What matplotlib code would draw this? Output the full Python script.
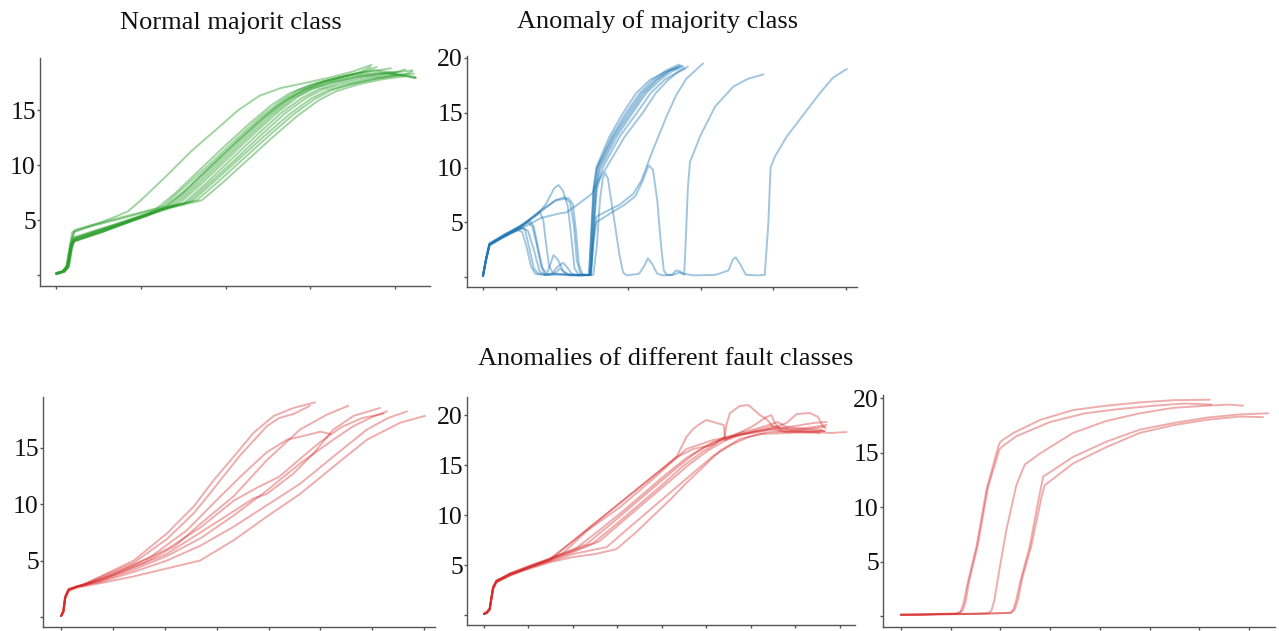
import matplotlib
matplotlib.use("Agg")
import matplotlib.pyplot as plt

# ---------------------------------------------------------------------------
# Data: each curve is a list of (sample index, value) points
# ---------------------------------------------------------------------------
normal_curves = [
    [(0,0.15),(7,0.3),(12,0.8),(16,2.6),(19,3.9),(30,4.2),(50,4.7),(70,5.3),(85,5.8),(100,6.8),(130,9.0),(160,11.3),(190,13.3),(215,15.0),(240,16.3),(265,17.0),(290,17.4),(320,17.9),(350,18.5),(372,19.1)],
    [(0,0.1),(8,0.35),(13,0.9),(17,2.8),(21,3.9),(40,4.4),(70,5.0),(100,5.6),(118,6.0),(140,7.4),(170,9.6),(200,11.8),(230,13.9),(255,15.5),(275,16.5),(300,17.3),(330,17.9),(360,18.4),(378,18.9)],
    [(0,0.15),(7,0.3),(13,0.7),(17,2.4),(20,3.4),(40,3.9),(70,4.6),(100,5.3),(124,6.1),(150,7.9),(180,10.0),(210,12.2),(240,14.3),(265,15.8),(285,16.8),(310,17.5),(340,18.1),(370,18.5),(395,18.8)],
    [(1,0.1),(9,0.3),(14,0.8),(18,2.6),(21,3.2),(45,3.9),(75,4.6),(105,5.4),(130,6.2),(155,7.9),(185,10.1),(215,12.3),(245,14.4),(270,15.9),(290,16.8),(315,17.6),(345,18.2),(375,18.6),(402,18.4)],
    [(0,0.2),(8,0.3),(13,0.6),(17,2.2),(20,3.0),(45,3.7),(75,4.5),(105,5.3),(135,6.3),(160,8.0),(190,10.2),(220,12.4),(250,14.5),(275,16.0),(295,16.9),(320,17.6),(350,18.1),(380,18.4),(408,18.2)],
    [(2,0.1),(10,0.3),(15,0.8),(18,2.4),(21,3.1),(50,3.9),(80,4.7),(110,5.5),(140,6.4),(165,8.1),(195,10.3),(225,12.5),(255,14.6),(280,16.1),(300,16.9),(325,17.5),(355,18.0),(385,18.3),(420,18.6)],
    [(0,0.1),(8,0.3),(14,0.9),(18,2.8),(22,3.3),(50,4.0),(80,4.8),(110,5.6),(145,6.5),(170,8.2),(200,10.4),(230,12.6),(260,14.7),(285,16.2),(305,17.0),(330,17.6),(360,18.1),(390,18.4),(424,17.9)],
    [(1,0.2),(9,0.4),(15,1.0),(19,2.9),(23,3.4),(50,4.1),(85,5.0),(115,5.8),(150,6.5),(175,8.2),(205,10.4),(235,12.6),(265,14.7),(290,16.1),(310,16.9),(335,17.5),(365,18.0),(395,18.3),(412,18.7)],
    [(0,0.1),(7,0.3),(12,0.6),(16,2.1),(19,3.0),(50,3.8),(85,4.8),(120,5.8),(155,6.6),(180,8.3),(210,10.4),(240,12.6),(270,14.7),(295,16.1),(315,16.9),(340,17.4),(370,17.9),(400,18.2),(422,18.3)],
    [(2,0.2),(10,0.3),(15,0.7),(19,2.5),(22,3.2),(55,4.0),(90,5.0),(125,6.0),(160,6.7),(185,8.4),(215,10.5),(245,12.6),(275,14.6),(300,16.0),(320,16.8),(345,17.3),(375,17.8),(405,18.2),(424,18.0)],
    [(0,0.15),(8,0.3),(13,0.8),(17,2.7),(21,3.3),(55,4.1),(90,5.1),(130,6.1),(166,6.8),(190,8.4),(220,10.5),(250,12.6),(280,14.6),(305,16.0),(325,16.8),(350,17.4),(380,17.9),(410,18.2),(420,18.5)],
    [(1,0.1),(9,0.3),(14,0.7),(18,2.3),(21,3.1),(55,3.9),(95,5.1),(135,6.1),(172,6.8),(195,8.3),(225,10.4),(255,12.5),(285,14.5),(310,15.9),(330,16.7),(355,17.3),(385,17.8),(415,18.1),(424,17.9)],
    [(0,0.1),(8,0.3),(14,0.8),(18,2.9),(22,4.1),(40,4.5),(70,5.1),(100,5.7),(130,6.3),(150,7.5),(180,9.7),(210,11.9),(240,14.0),(262,15.4),(282,16.4),(305,17.2),(335,17.9),(360,18.5),(371,18.9)],
]

majority_anomaly_curves = [
    [(0,0.1),(3,1.2),(9,3.0),(30,3.8),(48,4.3),(54,4.1),(60,2.8),(66,1.0),(72,0.3),(85,0.2),(100,0.3),(120,0.2),(146,0.2),(149,4.0),(152,8.0),(156,10.0),(174,12.8),(193,15.0),(211,16.8),(230,18.0),(250,18.7),(268,19.1)],
    [(0,0.1),(4,1.5),(9,3.0),(30,3.8),(50,4.5),(64,5.2),(70,4.6),(76,2.6),(82,0.8),(88,0.3),(93,1.2),(97,2.0),(103,1.6),(110,0.6),(118,0.2),(147,0.2),(150,4.2),(153,8.0),(158,10.0),(179,12.8),(200,15.0),(219,16.8),(238,18.0),(256,18.8),(272,19.3)],
    [(0,0.1),(4,1.6),(9,3.1),(30,3.9),(50,4.6),(65,5.3),(78,6.0),(83,5.2),(87,3.0),(91,1.0),(96,0.4),(102,0.9),(110,1.3),(116,0.9),(122,0.3),(130,0.15),(148,0.2),(152,4.5),(155,8.0),(162,10.0),(184,12.8),(206,15.0),(225,16.8),(244,18.0),(261,18.8),(276,19.2)],
    [(0,0.1),(4,1.6),(9,3.0),(30,3.9),(55,4.8),(75,5.7),(87,6.7),(98,8.1),(104,8.4),(110,7.9),(117,6.4),(122,3.4),(126,0.8),(132,0.15),(146,0.2),(150,5.0),(153,8.2),(157,10.0),(177,12.8),(197,15.0),(216,16.8),(234,18.0),(253,18.9),(270,19.4)],
    [(0,0.1),(4,1.5),(9,2.9),(30,3.8),(55,4.7),(80,6.0),(100,7.0),(112,7.3),(120,6.8),(125,4.8),(129,1.6),(134,0.3),(145,0.15),(149,0.2),(153,4.8),(157,8.0),(165,10.0),(188,12.8),(212,15.0),(231,16.8),(250,18.0),(265,18.6),(278,19.0)],
    [(0,0.1),(4,1.6),(9,3.0),(30,3.8),(55,4.8),(80,6.1),(100,7.0),(118,7.2),(124,6.6),(128,4.2),(132,1.2),(137,0.2),(148,0.2),(152,4.5),(156,8.3),(160,10.0),(181,12.8),(203,15.0),(222,16.8),(240,18.0),(258,18.9),(274,19.3)],
    [(0,0.1),(4,1.5),(9,3.0),(30,3.7),(55,4.5),(80,5.4),(105,5.8),(115,5.9),(128,6.5),(140,7.1),(150,7.6),(158,8.7),(170,10.0),(195,12.8),(220,15.0),(238,16.8),(255,18.0),(270,18.8),(282,19.2)],
    [(0,0.1),(4,1.5),(9,2.9),(30,3.7),(50,4.4),(62,5.0),(68,4.6),(74,3.0),(80,1.0),(86,0.2),(100,0.2),(130,0.15),(148,0.2),(152,3.5),(156,5.5),(170,6.0),(188,6.6),(207,7.6),(218,8.8),(234,11.6),(253,14.7),(266,16.6),(280,18.1),(303,19.5)],
    [(0,0.1),(4,1.6),(9,3.0),(30,3.8),(52,4.5),(58,4.3),(64,2.6),(70,0.8),(76,0.3),(85,0.2),(100,0.4),(106,0.8),(112,0.4),(120,0.15),(148,0.2),(152,3.0),(156,5.0),(175,5.8),(195,6.6),(210,7.4),(220,8.8),(228,10.2),(234,9.8),(240,7.0),(245,3.0),(249,0.6),(253,0.2),(260,0.2),(266,0.6),(272,0.5),(277,0.2),(279,3.0),(282,8.0),(285,10.5),(300,13.0),(320,15.6),(345,17.4),(365,18.1),(386,18.5)],
    [(0,0.1),(4,1.5),(9,2.9),(40,4.1),(55,4.5),(62,4.2),(70,2.5),(78,0.5),(86,0.2),(100,0.3),(140,0.15),(152,0.2),(157,3.0),(161,7.0),(165,9.0),(168,9.5),(172,9.0),(180,5.5),(188,2.0),(193,0.4),(198,0.15),(215,0.3),(222,1.0),(227,1.7),(233,1.2),(240,0.3),(248,0.15),(262,0.2),(270,0.4),(276,0.3),(290,0.15),(320,0.2),(338,0.6),(344,1.6),(348,1.8),(354,1.2),(362,0.2),(380,0.15),(388,0.2),(393,5.0),(396,10.0),(402,11.0),(418,12.8),(441,14.8),(464,16.8),(482,18.2),(501,19.0)],
]

fault_a_curves = [
    [(0,0.1),(4,0.5),(7,1.6),(13,2.4),(30,2.7),(44,2.9),(90,3.9),(140,5.0),(204,7.4),(256,9.8),(294,12.1),(333,14.2),(371,16.3),(410,17.8),(448,18.5),(490,19.0)],
    [(0,0.1),(4,0.6),(8,1.8),(14,2.4),(30,2.7),(44,2.9),(90,3.8),(140,4.8),(204,6.9),(256,9.2),(281,10.6),(300,11.7),(345,14.3),(397,16.9),(420,17.6),(450,18.0),(480,18.7)],
    [(0,0.1),(5,0.5),(8,1.7),(15,2.4),(31,2.7),(44,2.8),(100,3.7),(160,4.8),(220,6.3),(270,8.3),(333,10.7),(397,13.9),(461,16.6),(512,17.9),(554,18.7)],
    [(0,0.1),(4,0.4),(8,1.8),(15,2.5),(31,2.7),(44,2.8),(100,3.8),(172,5.3),(243,7.7),(301,10.4),(352,12.7),(397,14.6),(436,15.7),(474,16.1),(500,16.4),(519,16.2)],
    [(0,0.1),(4,0.5),(8,1.7),(15,2.4),(31,2.7),(76,3.25),(140,4.4),(204,5.6),(300,8.4),(371,10.5),(397,10.9),(448,12.7),(487,14.5),(525,16.6),(564,17.8),(615,18.5)],
    [(0,0.1),(5,0.6),(8,1.9),(15,2.5),(31,2.7),(76,3.2),(140,4.2),(204,5.4),(270,7.0),(333,9.0),(397,11.2),(461,13.6),(525,15.7),(564,16.9),(600,17.7),(628,18.2)],
    [(0,0.1),(4,0.5),(8,1.8),(15,2.4),(31,2.7),(76,3.1),(140,4.0),(204,5.0),(268,6.3),(333,8.0),(397,9.9),(461,11.8),(525,14.2),(590,16.6),(630,17.6),(667,18.2)],
    [(0,0.1),(4,0.4),(7,1.6),(14,2.3),(31,2.6),(76,3.0),(140,3.6),(204,4.3),(268,5.0),(333,6.8),(397,8.9),(461,10.9),(525,13.3),(590,15.7),(654,17.2),(702,17.8)],
    [(0,0.1),(5,0.5),(8,1.7),(15,2.4),(31,2.7),(76,3.4),(140,4.6),(204,6.0),(268,7.9),(333,10.3),(380,11.5),(420,12.4),(461,14.0),(500,15.5),(540,16.8),(580,17.6),(622,18.0)],
]

fault_b_curves = [
    [(0,0.1),(6,0.2),(13,0.6),(20,2.6),(28,3.5),(60,4.1),(100,4.7),(148,5.5),(200,7.4),(250,9.2),(300,11.0),(350,12.8),(400,14.6),(434,15.9),(455,17.8),(470,18.6),(485,19.1),(500,19.5),(523,19.2),(539,19.0),(542,17.5),(560,17.9),(600,18.2),(640,18.6),(680,18.3),(720,18.4),(766,18.4)],
    [(0,0.15),(6,0.3),(13,0.7),(20,2.8),(28,3.4),(60,4.2),(100,4.8),(148,5.6),(200,7.4),(250,9.2),(300,11.0),(350,12.8),(400,14.6),(434,15.8),(470,16.6),(515,17.0),(541,17.8),(545,19.0),(553,20.2),(575,20.9),(594,21.0),(605,20.6),(620,20.0),(635,19.6),(650,18.8),(673,18.4),(700,18.3),(755,18.2)],
    [(0,0.1),(6,0.2),(13,0.5),(21,2.7),(28,3.3),(60,4.1),(100,4.8),(150,5.6),(178,6.2),(231,8.4),(306,10.8),(380,13.6),(455,16.6),(515,17.5),(560,17.9),(605,18.9),(635,19.8),(646,20.0),(654,19.2),(665,18.6),(700,18.6),(740,18.8),(770,19.0)],
    [(0,0.1),(6,0.2),(13,0.6),(21,2.9),(28,3.4),(60,4.2),(100,4.9),(150,5.7),(208,6.7),(260,8.5),(310,10.3),(360,12.2),(410,14.1),(455,15.7),(500,16.9),(540,17.7),(575,18.2),(610,18.6),(640,19.0),(660,19.3),(680,18.8),(720,18.6),(760,18.5)],
    [(0,0.15),(6,0.3),(13,0.7),(20,2.5),(28,3.3),(60,4.0),(100,4.8),(150,5.6),(200,6.5),(231,7.1),(280,8.9),(330,10.8),(380,12.7),(430,14.6),(475,16.2),(515,17.3),(560,17.9),(600,18.3),(650,18.9),(690,18.5),(730,18.3),(765,18.4)],
    [(0,0.1),(6,0.2),(13,0.6),(21,2.8),(28,3.4),(60,4.1),(100,4.8),(150,5.6),(200,6.4),(246,7.2),(295,9.0),(345,10.9),(395,12.8),(445,14.8),(490,16.3),(530,17.4),(570,18.0),(610,18.4),(650,18.6),(700,18.9),(740,19.2),(770,19.3)],
    [(0,0.15),(6,0.3),(13,0.6),(20,2.6),(28,3.3),(60,4.0),(100,4.7),(150,5.5),(200,6.3),(260,7.4),(310,9.3),(360,11.2),(410,13.1),(460,15.0),(505,16.5),(545,17.5),(585,18.1),(630,18.4),(680,19.2),(703,20.1),(733,20.2),(751,19.8),(760,19.0),(768,18.7)],
    [(0,0.1),(6,0.2),(13,0.5),(21,2.7),(28,3.3),(60,4.0),(100,4.6),(150,5.3),(200,5.8),(250,6.1),(298,6.6),(340,8.2),(380,9.9),(420,11.6),(455,13.2),(495,14.9),(530,16.4),(575,17.6),(620,18.1),(680,18.2),(740,18.3),(780,18.2),(815,18.3)],
    [(0,0.1),(6,0.2),(13,0.6),(21,2.8),(28,3.4),(60,4.1),(100,4.7),(150,5.4),(200,6.1),(276,6.8),(320,8.5),(370,10.4),(420,12.3),(470,14.2),(515,15.9),(555,17.0),(595,17.8),(640,18.3),(690,18.4),(730,18.6),(765,18.8)],
]

fault_c_curves = [
    [(0,0.1),(40,0.1),(80,0.2),(110,0.2),(120,0.4),(126,1.2),(134,3.0),(152,6.4),(172,11.6),(196,15.6),(200,16.0),(226,16.8),(280,18.0),(346,18.9),(413,19.3),(480,19.6),(547,19.8),(621,19.85)],
    [(0,0.15),(40,0.15),(80,0.2),(115,0.25),(124,0.5),(130,1.3),(137,3.2),(155,6.6),(175,11.8),(198,15.3),(205,15.6),(232,16.5),(300,17.8),(370,18.6),(440,19.0),(510,19.3),(570,19.5),(624,19.4)],
    [(0,0.1),(60,0.15),(120,0.2),(175,0.25),(182,0.5),(188,1.5),(197,4.0),(212,7.9),(232,12.0),(249,13.9),(279,14.9),(346,16.8),(413,17.9),(480,18.6),(547,19.1),(614,19.3),(660,19.4),(688,19.3)],
    [(0,0.1),(80,0.15),(150,0.2),(220,0.3),(226,0.6),(232,1.5),(239,3.0),(259,6.4),(278,11.0),(286,12.8),(313,13.6),(346,14.6),(413,16.0),(480,17.1),(547,17.7),(614,18.2),(681,18.5),(738,18.6)],
    [(0,0.15),(80,0.2),(150,0.2),(222,0.3),(229,0.6),(236,1.6),(244,3.5),(262,6.4),(283,11.0),(289,12.0),(346,14.0),(413,15.5),(480,16.8),(547,17.5),(614,18.0),(681,18.3),(728,18.25)],
]

y_ticks_low = [0, 5, 10, 15]
y_ticks_high = [0, 5, 10, 15, 20]

title_normal = "Normal majorit class"
title_majority = "Anomaly of majority class"
title_faults = "Anomalies of different fault classes"

# ---------------------------------------------------------------------------
plt.rcParams["font.family"] = ["Liberation Serif", "DejaVu Serif"]

W, H = 1279, 631
fig = plt.figure(figsize=(W / 100, H / 100), dpi=100)


def make_axes(left, top, right, bottom):
    return fig.add_axes([left / W, 1 - bottom / H, (right - left) / W, (bottom - top) / H])


def style(ax, xlim, ylim, xticks, yticks):
    ax.set_xlim(*xlim)
    ax.set_ylim(*ylim)
    ax.set_xticks(xticks)
    ax.set_xticklabels([])
    ax.set_yticks(yticks)
    ax.set_yticklabels(["" if t == 0 else str(t) for t in yticks])
    for s in ("top", "right"):
        ax.spines[s].set_visible(False)
    for s in ("left", "bottom"):
        ax.spines[s].set_color("#555555")
        ax.spines[s].set_linewidth(1.0)
    ax.tick_params(direction="out", length=2.5, width=1.0, color="#555555",
                   labelsize=18.5, labelcolor="#111111", pad=0.5)
    ax.patch.set_alpha(0)


def draw(ax, curves, color, alpha):
    for c in curves:
        xs = [p[0] for p in c]
        ys = [p[1] for p in c]
        ax.plot(xs, ys, color=color, alpha=alpha, lw=1.4, solid_capstyle="round")


ax1 = make_axes(40, 58, 430, 286)
draw(ax1, normal_curves, "#2ca02c", 0.45)
style(ax1, (-19, 441), (-1.0, 19.73), range(0, 401, 100), y_ticks_low)

ax2 = make_axes(467, 56, 857, 287)
draw(ax2, majority_anomaly_curves, "#1f77b4", 0.42)
style(ax2, (-22, 515), (-0.91, 20.18), range(0, 501, 100), y_ticks_high)

ax3 = make_axes(43, 397, 435, 627)
draw(ax3, fault_a_curves, "#d62728", 0.38)
style(ax3, (-35, 721), (-0.88, 19.47), range(0, 701, 100), y_ticks_low)

ax4 = make_axes(467, 397, 855, 625)
draw(ax4, fault_b_curves, "#d62728", 0.38)
style(ax4, (-38, 834), (-0.99, 21.8), range(0, 801, 100), y_ticks_high)

ax5 = make_axes(883, 395, 1275, 627)
draw(ax5, fault_c_curves, "#d62728", 0.38)
style(ax5, (-36, 752), (-1.0, 20.28), range(0, 701, 100), y_ticks_high)

fig.text(231 / W, 1 - 29 / H, title_normal, ha="center", va="baseline", fontsize=19, color="#111111")
fig.text(658 / W, 1 - 28 / H, title_majority, ha="center", va="baseline", fontsize=19, color="#111111")
fig.text(666 / W, 1 - 365 / H, title_faults, ha="center", va="baseline", fontsize=19, color="#111111")

fig.savefig("out.png", dpi=100, facecolor="white")
